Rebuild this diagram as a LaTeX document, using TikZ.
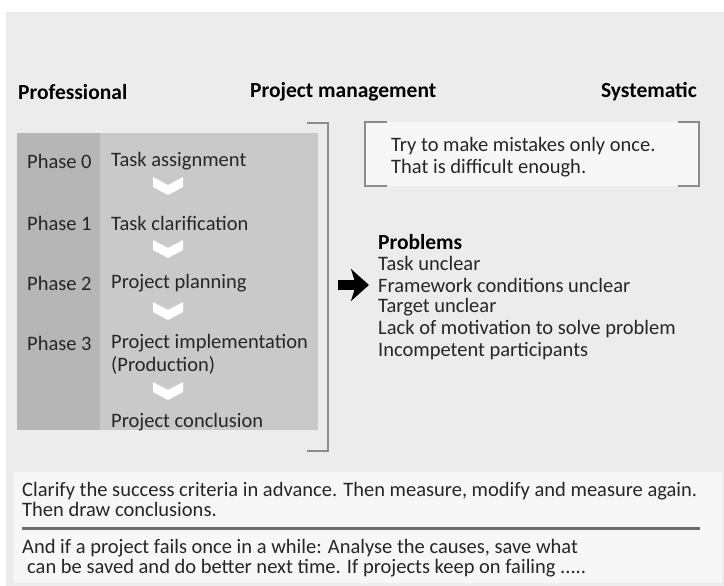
\documentclass[tikz,border=0pt]{standalone}
\usepackage{fontspec}
\setmainfont{Carlito}
\usetikzlibrary{arrows.meta}

\definecolor{pagegray}{HTML}{ECECEC}
\definecolor{phasedark}{HTML}{B6B6B6}
\definecolor{phaselight}{HTML}{C9C9C9}
\definecolor{bracketgray}{HTML}{8C8C8C}
\definecolor{notefill}{HTML}{F7F7F7}
\definecolor{rulegray}{HTML}{6E6E6E}
\definecolor{inkgray}{HTML}{262626}

\begin{document}
\begin{tikzpicture}[x=1pt, y=-1pt,
    every node/.style={font=\fontsize{20.5}{22}\selectfont, text=inkgray, inner sep=0pt},
    heading/.style={font=\fontsize{21.5}{22}\selectfont\bfseries, text=black},
    bottomtext/.style={font=\fontsize{20.5}{20}\selectfont, align=left, anchor=west},
    bracket/.style={draw=bracketgray, line width=2pt},
    chevron/.style={fill=white}]
    % Background
    \fill[white] (0,0) rectangle (724,586);
    \fill[pagegray] (6,12) rectangle (724,586);
    \useasboundingbox (0,0) rectangle (724,586);

    % Headings
    \node[heading, anchor=west] (prof) at (18,92) {Professional};
    \node[heading, anchor=west] (pm) at (250,92) {Project management};
    \node[heading, anchor=east] (sys) at (697,92) {Systematic};

    % Phase box
    \fill[phaselight] (17,133) rectangle (318,430);
    \fill[phasedark] (17,133) rectangle (100,430);
    \draw[bracket] (307,123) -- (328,123) -- (328,451) -- (307,451);

    % Phases and tasks
    \node[anchor=west] (ph0) at (27,161) {Phase 0};
    \node[anchor=west] (ph1) at (27,223) {Phase 1};
    \node[anchor=west] (ph2) at (27,283) {Phase 2};
    \node[anchor=west] (ph3) at (27,343) {Phase 3};
    \node[anchor=west] (task0) at (111,161) {Task assignment};
    \node[anchor=west] (task1) at (111,223) {Task clarification};
    \node[anchor=west] (task2) at (111,283) {Project planning};
    \node[anchor=west] (task3) at (111,343) {Project implementation};
    \node[anchor=west] (task3b) at (111,365) {(Production)};
    \node[anchor=west] (task4) at (111,422) {Project conclusion};

    % Chevrons
    \foreach \y in {185,248,310,390}
      \fill[chevron] (153,\y-8) -- (168,\y) -- (183,\y-8) -- (183,\y+2) -- (168,\y+10) -- (153,\y+2) -- cycle;

    % Note box
    \fill[notefill] (365,122) rectangle (699,186);
    \draw[bracket] (387,122) -- (365,122) -- (365,186) -- (387,186);
    \draw[bracket] (678,122) -- (699,122) -- (699,186) -- (678,186);
    \node[anchor=west] (note1) at (391,146) {Try to make mistakes only once.};
    \node[anchor=west] (note2) at (391,168) {That is difficult enough.};

    % Problems
    \node[heading, anchor=west] (probs) at (378,242) {Problems};
    \foreach \txt [count=\i] in {Task unclear, Framework conditions unclear, Target unclear,
        Lack of motivation to solve problem, Incompetent participants}
      \node[anchor=west] (prob\i) at (378,241+22*\i) {\txt};

    % Arrow
    \coordinate (arrowstart) at (338,285);
    \coordinate (arrowend) at (369,285);
    \draw[black, line width=10pt, -{Stealth[length=18pt, width=32pt, inset=5pt]}] (arrowstart) -- (arrowend);

    % Bottom box
    \fill[notefill] (14,472) rectangle (722,583);
    \node[bottomtext] (clar) at (22,499) {Clarify the success criteria in advance. Then measure, modify and measure again.\\Then draw conclusions.};
    \draw[rulegray, line width=3pt] (22,528) -- (700,528);
    \node[bottomtext] (fail) at (22,558) {And if a project fails once in a while: Analyse the causes, save what\\\hspace*{5pt}can be saved and do better next time. If projects keep on failing .....};
\end{tikzpicture}
\end{document}
